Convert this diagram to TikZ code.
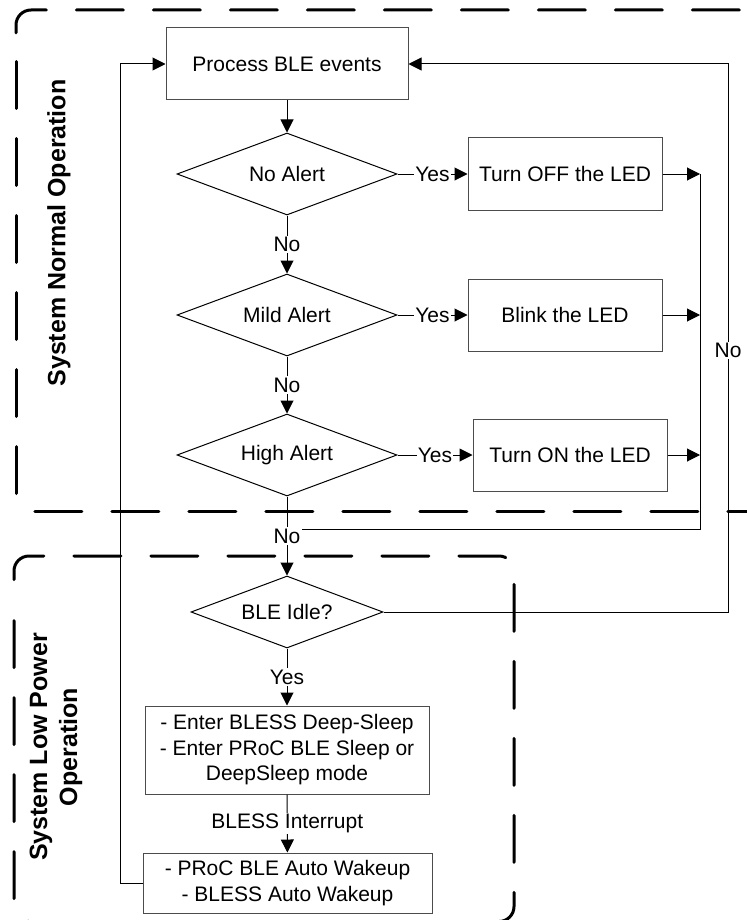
\documentclass[tikz,border=0pt]{standalone}
\usepackage{fontspec}
\setmainfont{Liberation Sans}
\usetikzlibrary{arrows.meta,shapes.geometric}
\begin{document}
\begin{tikzpicture}[x=0.5pt,y=-0.5pt,
  txt/.style={font=\fontsize{10.5}{12.75}\selectfont},
  box/.style={draw=black!70, line width=0.5pt, rectangle, inner sep=0pt, align=center, txt},
  dec/.style={draw, diamond, line width=0.5pt, inner sep=0pt, aspect=2.6, txt},
  conn/.style={line width=0.5pt, draw=black},
  arr/.style={conn, -{Triangle[length=6.5pt,width=6.5pt]}},
  lbl/.style={fill=white, inner sep=0.6pt, txt},
  frame/.style={line width=1.5pt, line cap=round, dash pattern=on 23.5pt off 15pt, rounded corners=7.5pt},
  side/.style={font=\fontsize{12.5}{15}\selectfont\bfseries, rotate=90, align=center}
]
\useasboundingbox (0,0) rectangle (747,920);

% dashed region frames
\begin{scope}
\clip (0,0) rectangle (747,920);
\draw[frame] (16,33) -- (16,10) -- (780,10);
\draw[frame] (16,61.5) -- (16,511) -- (780,511);
\draw[frame] (14,579.5) -- (14,556) -- (514,556) -- (514,921.5) -- (14,921.5) -- (14,600);
\end{scope}

% side labels
\node[side] (lab1) at (59,233) {System Normal Operation};
\node[side] (lab2) at (56,747) {System Low Power\\Operation};

% nodes
\node[box, minimum width=121pt, minimum height=36pt] (proc) at (287,64) {Process BLE events};
\node[dec, minimum width=110pt, minimum height=41pt] (d1) at (287,174) {No Alert};
\node[box, minimum width=97pt, minimum height=36.5pt] (off) at (565,174) {Turn OFF the LED};
\node[dec, minimum width=110pt, minimum height=41pt] (d2) at (287,315) {Mild Alert};
\node[box, minimum width=97pt, minimum height=36pt] (blink) at (565,315) {Blink the LED};
\node[dec, minimum width=110pt, minimum height=41pt] (d3) at (287,455) {High Alert};
\node[box, minimum width=97pt, minimum height=36pt] (on) at (570,455) {Turn ON the LED};
\node[dec, minimum width=96pt, minimum height=36pt] (d4) at (287,612) {BLE Idle?};
\node[box, minimum width=142pt, minimum height=44pt] (enter) at (287,750) {- Enter BLESS Deep-Sleep\\- Enter PRoC BLE Sleep or\\DeepSleep mode};
\node[box, minimum width=144.5pt, minimum height=30pt] (wake) at (287.5,883) {- PRoC BLE Auto Wakeup\\- BLESS Auto Wakeup};

% helper coordinates
\coordinate (mtop) at (700,174);
\coordinate (mbot) at (700,529);
\coordinate (mjoin) at (287,529);
\coordinate (rx) at (728,64);
\coordinate (lx) at (120,64);

% connectors
\draw[conn] (mtop) -- (mbot) -- (mjoin);
\draw[arr] (proc) -- (d1);
\draw[arr] (d1) -- node[lbl]{No} (d2);
\draw[arr] (d2) -- node[lbl]{No} (d3);
\draw[arr] (d3) -- node[lbl]{No} (d4);
\draw[arr] (d1) -- node[lbl]{Yes} (off);
\draw[arr] (d2) -- node[lbl]{Yes} (blink);
\draw[arr] (d3) -- node[lbl]{Yes} (on);
\draw[arr] (off.east) -- (off.east -| mtop);
\draw[arr] (blink.east) -- (blink.east -| mtop);
\draw[arr] (on.east) -- (on.east -| mtop);
\draw[arr] (d4.east) -| node[lbl, pos=0.739]{No} (rx) -- (proc.east);
\draw[arr] (d4) -- node[lbl]{Yes} (enter);
\draw[arr] (enter) -- node[lbl]{BLESS Interrupt} (wake);
\draw[arr] (wake.west) -| (lx) -- (proc.west);
\end{tikzpicture}
\end{document}
